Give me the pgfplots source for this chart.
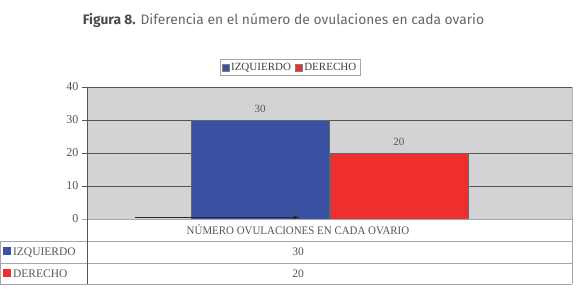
\documentclass[border=0pt]{standalone}
\usepackage{pgfplots}
\pgfplotsset{compat=1.18}
\usepackage{fontspec}
\setmainfont{Liberation Serif}
\newfontfamily\titlefont{Fira Sans}
\usetikzlibrary{arrows.meta}
\definecolor{izq}{HTML}{3A52A3}
\definecolor{der}{HTML}{EE2F2D}
\definecolor{bg}{HTML}{D3D3D5}
\definecolor{txt}{HTML}{555555}
\definecolor{grd}{HTML}{555555}
\begin{document}
\begin{tikzpicture}[x=1pt,y=1pt]
\path[use as bounding box] (0,0) rectangle (577,291);
\node[font=\titlefont\fontsize{13.8}{16}\selectfont, text=black!60] at (283.5,271)
  {\textcolor{black!70}{\textbf{Figura 8.}} Diferencia en el número de ovulaciones en cada ovario};
\begin{axis}[
  at={(87pt,72pt)}, anchor=south west,
  scale only axis, width=485pt, height=132pt,
  xmin=0, xmax=1, ymin=0, ymax=40,
  xtick=\empty, ytick={0,10,20,30,40},
  ytick pos=left, tick align=outside, major tick length=5pt,
  ytick style={draw=grd, line width=0.6pt},
  ymajorgrids, grid style={draw=grd, line width=0.7pt},
  axis line style={draw=gray!60, line width=0.6pt},
  axis background/.style={fill=bg},
  yticklabel style={font=\rmfamily\fontsize{12}{14}\selectfont, text=txt},
  /pgf/number format/assume math mode=true,
  ybar, bar width=138pt,
  nodes near coords,
  nodes near coords style={font=\rmfamily\fontsize{11}{12}\selectfont, text=txt, yshift=4pt},
  legend style={at={(0.4186,1.148)}, anchor=center, legend columns=2,
    draw=gray!70, font=\rmfamily\fontsize{11}{12}\selectfont, text=black!75, inner sep=1.5pt,
    /tikz/every even column/.append style={column sep=2pt}},
  legend image code/.code={\fill[#1,draw=black!50,line width=0.3pt] (0pt,-3.5pt) rectangle (7pt,3.5pt);},
  clip=false,
]
\addplot[fill=izq, draw=black!60, line width=0.5pt, bar shift=0pt] coordinates {(0.357,30)};
\addlegendentry{IZQUIERDO}
\addplot[fill=der, draw=black!60, line width=0.5pt, bar shift=0pt] coordinates {(0.643,20)};
\addlegendentry{DERECHO}
\draw[-{Latex[length=6pt,width=4pt]}, line width=1pt, black!85] (axis cs:0.099,0.5) -- (axis cs:0.439,0.5);
\draw[draw=grd, line width=0.7pt] (axis cs:0,40) -- (axis cs:1,40);
\draw[draw=grd, line width=0.7pt] (axis cs:0,0) -- (axis cs:0,40);
\end{axis}
% data table
\begin{scope}[draw=gray!70, line width=0.6pt]
\draw (82,72) -- (572,72);
\draw (0,50) -- (572,50);
\draw (0,28) -- (572,28);
\draw (0,7) -- (572,7);
\draw (0.5,7) -- (0.5,50);
\draw[draw=grd] (87,7) -- (87,72);
\draw (572,7) -- (572,72);
\end{scope}
\begin{scope}[every node/.style={font=\rmfamily\fontsize{11.5}{13}\selectfont, text=txt}]
\node at (298,61) {\scalebox{0.95}[1]{NÚMERO OVULACIONES EN CADA OVARIO}};
\node at (298,39) {30};
\node at (298,17.5) {20};
\node[anchor=west, inner sep=0pt] at (3,39) {\textcolor{izq}{\rule[0pt]{8pt}{8pt}}\,IZQUIERDO};
\node[anchor=west, inner sep=0pt] at (3,17.5) {\textcolor{der}{\rule[0pt]{8pt}{8pt}}\,DERECHO};
\end{scope}
\end{tikzpicture}
\end{document}
